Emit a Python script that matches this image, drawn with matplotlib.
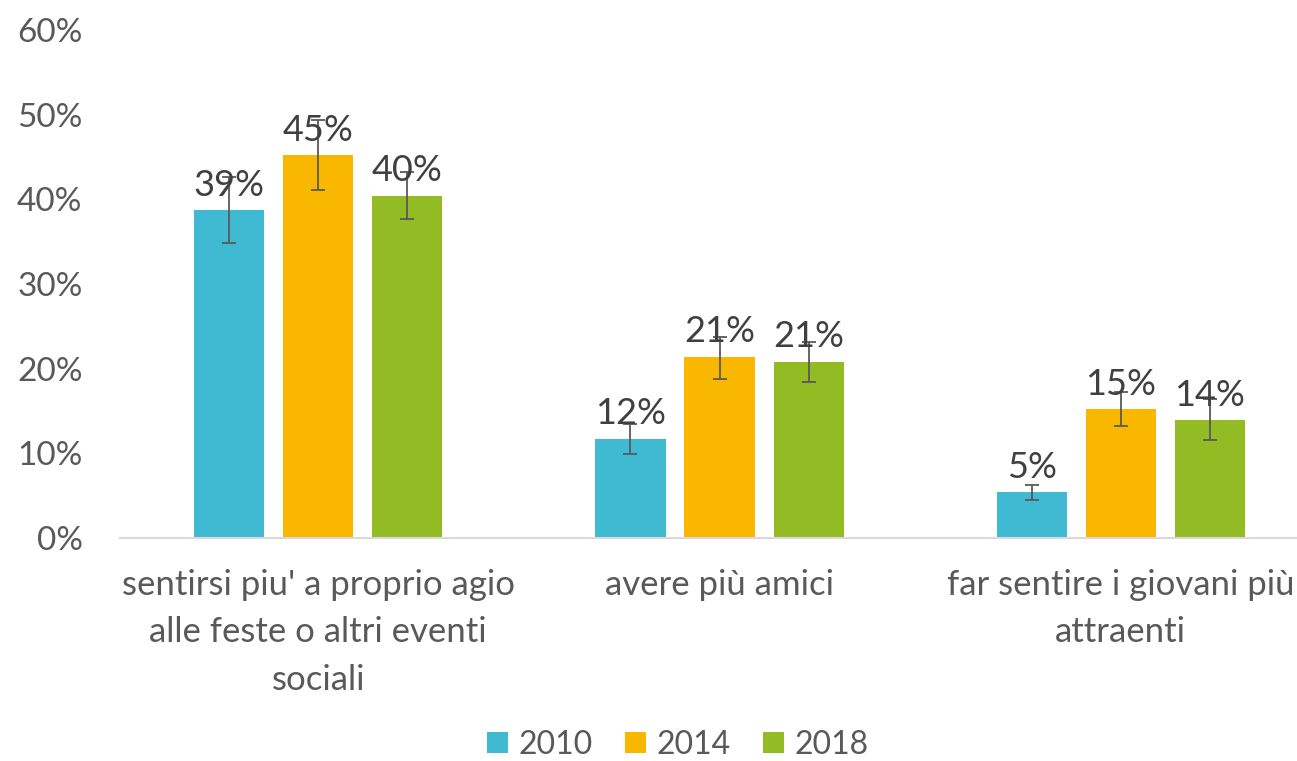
import numpy as np
import matplotlib
matplotlib.use('Agg')
import matplotlib.pyplot as plt
from matplotlib.patches import Patch

plt.rcParams['font.family'] = ['Lato', 'DejaVu Sans']

categories = ["sentirsi piu' a proprio agio\nalle feste o altri eventi\nsociali",
              "avere più amici",
              "far sentire i giovani più\nattraenti"]
years = ['2010', '2014', '2018']
colors = ['#40B9D3', '#F9B700', '#92BB24']

# percent values
v2010 = [38.7, 11.7, 5.4]
v2014 = [45.2, 21.4, 15.2]
v2018 = [40.4, 20.8, 13.9]
# error bar ends (low, high)
lo2010 = [34.8, 9.9, 4.5]
hi2010 = [42.6, 13.5, 6.3]
lo2014 = [41.1, 18.8, 13.2]
hi2014 = [49.4, 23.7, 17.2]
lo2018 = [37.7, 18.4, 11.6]
hi2018 = [43.2, 23.1, 16.4]
labels2010 = ['39%', '12%', '5%']
labels2014 = ['45%', '21%', '15%']
labels2018 = ['40%', '21%', '14%']

series = [(v2010, lo2010, hi2010, labels2010),
          (v2014, lo2014, hi2014, labels2014),
          (v2018, lo2018, hi2018, labels2018)]

W, H = 1297, 761
fig = plt.figure(figsize=(W / 100, H / 100), dpi=100)
ax = fig.add_axes([120 / W, (H - 538) / H, (W - 120) / W, (538 - 30) / H])

x = np.arange(len(categories))
step = 0.222
width = 0.175
for i, (vals, lo, hi, labs) in enumerate(series):
    xs = x + (i - 1) * step
    vals = np.array(vals)
    err = [vals - np.array(lo), np.array(hi) - vals]
    ax.bar(xs, vals, width, color=colors[i], zorder=2)
    ax.errorbar(xs, vals, yerr=err, fmt='none', ecolor='#595959',
                elinewidth=1.3, capsize=5, capthick=1.3, zorder=3)
    for xx, v, lab in zip(xs, vals, labs):
        ax.text(xx, v + 1.0, lab, ha='center', va='bottom', fontsize=26,
                color='#404040', zorder=4)

ax.set_xlim(-0.494, 2.439)
ax.set_ylim(0, 60)
ax.set_yticks(np.arange(0, 61, 10))
ax.set_yticklabels([f'{t}%' for t in range(0, 61, 10)])
ax.set_xticks(x)
ax.set_xticklabels(categories, fontsize=25, color='#595959', linespacing=1.6)
ax.tick_params(axis='y', labelsize=24, labelcolor='#595959', length=0, pad=27)
ax.tick_params(axis='x', length=0, pad=22)

for s in ['top', 'right', 'left']:
    ax.spines[s].set_visible(False)
ax.spines['bottom'].set_color('#D9D9D9')
ax.spines['bottom'].set_linewidth(1.5)

handles = [Patch(facecolor=c) for c in colors]
fig.legend(handles, years, loc='center', bbox_to_anchor=(678 / W, 1 - 745 / H),
           ncol=3, frameon=False, fontsize=23, labelcolor='#595959',
           handlelength=0.65, handleheight=0.65, handletextpad=0.35, columnspacing=1.0)

fig.savefig('out.png', dpi=100)
